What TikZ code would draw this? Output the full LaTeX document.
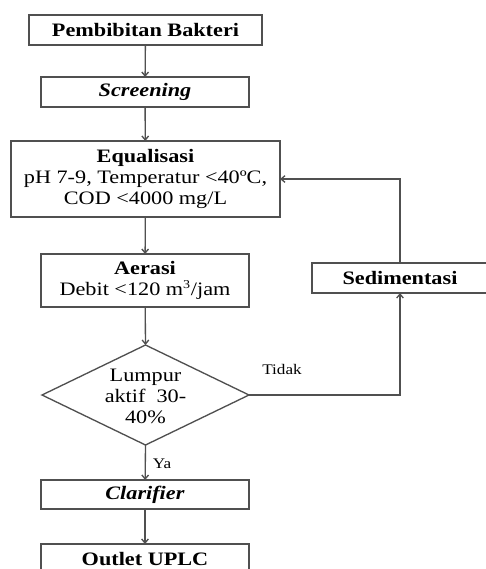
\documentclass[tikz,border=0pt]{standalone}
\usepackage{fontspec}
\setmainfont{Liberation Serif}[FakeStretch=1.17]
\usetikzlibrary{shapes.geometric,arrows.meta}
\definecolor{linegray}{HTML}{505050}
\begin{document}
\begin{tikzpicture}[x=0.75pt,y=-0.75pt,
  every node/.style={inner sep=0pt, outer sep=0pt, font=\fontsize{14.25}{15.75}\selectfont, align=center},
  procbox/.style={draw=linegray, line width=1pt, rectangle},
  decbox/.style={draw=linegray, line width=1pt, diamond, aspect=2},
  flow/.style={draw=linegray, line width=1pt, -{Straight Barb[length=3pt,width=5pt]}},
  edgelbl/.style={font=\fontsize{11}{12}\selectfont}
]
\useasboundingbox (0,0) rectangle (486,569);
\clip (0,0) rectangle (486,569);

\node[procbox, minimum width=233*0.75pt, minimum height=30*0.75pt] (pemb) at (145.5,30) {\textbf{Pembibitan Bakteri}};
\node[procbox, minimum width=208*0.75pt, minimum height=30*0.75pt] (scr) at (145,92) {\textbf{\textit{Screening}}};
\node[procbox, minimum width=269*0.75pt, minimum height=76*0.75pt] (equ) at (145.5,179) {\textbf{Equalisasi}\\pH 7-9, Temperatur <40ºC,\\COD <4000 mg/L};
\node[procbox, minimum width=208*0.75pt, minimum height=53*0.75pt] (aer) at (145,280.5) {\textbf{Aerasi}\\Debit <120 m\textsuperscript{\fontsize{9}{9}\selectfont 3}/jam};
\node[decbox, minimum width=207*0.75pt, minimum height=100*0.75pt] (dia) at (145.5,395) {};
\node (diatext) at (145.5,396) {Lumpur\\aktif~ 30-\\40\%};
\node[procbox, minimum width=176*0.75pt, minimum height=30*0.75pt] (sed) at (400,278) {\textbf{Sedimentasi}};
\node[procbox, minimum width=208*0.75pt, minimum height=29*0.75pt] (cla) at (145,494.5) {\textbf{\textit{Clarifier}}};
\node[procbox, minimum width=208*0.75pt, minimum height=30*0.75pt] (out) at (145,559) {\textbf{Outlet UPLC}};

\draw[flow] (pemb) -- (scr);
\draw[flow] (scr) -- (equ);
\draw[flow] (equ) -- (aer);
\draw[flow] (aer) -- (dia.north);
\draw[flow] (dia.south) -- (cla);
\draw[flow] (cla) -- (out);
\draw[flow] (dia.east) -| (sed.south);
\draw[flow] (sed.north) |- (equ.east);

\node[edgelbl] (tidak) at (282,369) {Tidak};
\node[edgelbl] (ya) at (162,464) {Ya};
\end{tikzpicture}
\end{document}
